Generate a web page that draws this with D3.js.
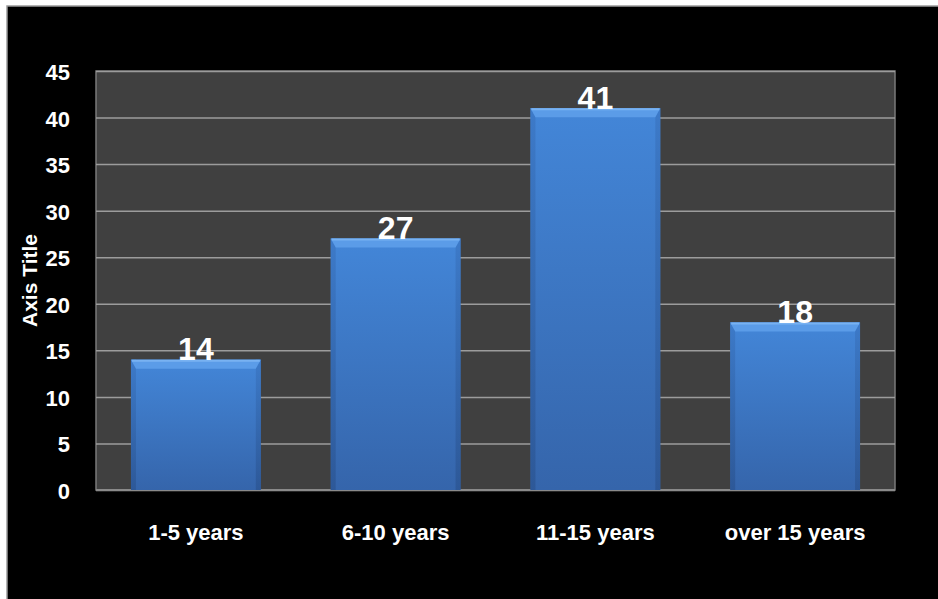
<!DOCTYPE html>
<html>
<head>
<meta charset="utf-8">
<script src="https://cdn.jsdelivr.net/npm/d3@7"></script>
<style>
  body { margin: 0; background: #fff; }
  text { font-family: "Liberation Sans", Arial, sans-serif; font-weight: bold; fill: #fff; }
</style>
</head>
<body>
<svg width="938" height="599"></svg>
<script>
var categories = ["1-5 years", "6-10 years", "11-15 years", "over 15 years"];
var values = [14, 27, 41, 18];
var yTicks = [0, 5, 10, 15, 20, 25, 30, 35, 40, 45];
var axisTitle = "Axis Title";

var svg = d3.select("svg");
var plot = {left: 96, right: 895, top: 71, bottom: 490};

// outer black panel
svg.append("rect")
   .attr("x", 7).attr("y", 6)
   .attr("width", 940).attr("height", 600)
   .attr("fill", "#000")
   .attr("stroke", "#9a9a9a")
   .attr("stroke-width", 1.5);

var x = d3.scaleBand()
          .domain(categories)
          .range([plot.left, plot.right])
          .paddingInner(0.35)
          .paddingOuter(0.175);

var y = d3.scaleLinear()
          .domain([0, 45])
          .range([plot.bottom, plot.top]);

// plot area
svg.append("rect")
   .attr("x", plot.left).attr("y", plot.top)
   .attr("width", plot.right - plot.left)
   .attr("height", plot.bottom - plot.top)
   .attr("fill", "#404040")
   .attr("stroke", "#7a7a7a")
   .attr("stroke-width", 1.5);

// gridlines
var grid = svg.append("g")
   .attr("transform", "translate(" + plot.left + ",0)")
   .call(d3.axisLeft(y).tickValues(yTicks).tickSize(-(plot.right - plot.left)).tickFormat(""));
grid.select(".domain").remove();
grid.selectAll("line").attr("stroke", "#9c9c9c").attr("stroke-width", 1.5);

// bottom axis line
svg.append("line")
   .attr("x1", plot.left).attr("x2", plot.right)
   .attr("y1", y(0)).attr("y2", y(0))
   .attr("stroke", "#8a8a8a").attr("stroke-width", 2);

// gradients
var defs = svg.append("defs");
var body = defs.append("linearGradient").attr("id", "barBody")
   .attr("x1", 0).attr("y1", 0).attr("x2", 0).attr("y2", 1);
body.append("stop").attr("offset", "0%").attr("stop-color", "#4386d8");
body.append("stop").attr("offset", "100%").attr("stop-color", "#3565ab");

var side = defs.append("linearGradient").attr("id", "barSide")
   .attr("x1", 0).attr("y1", 0).attr("x2", 0).attr("y2", 1);
side.append("stop").attr("offset", "0%").attr("stop-color", "#3a75c2");
side.append("stop").attr("offset", "100%").attr("stop-color", "#2a5390");

var bars = svg.selectAll("g.bar")
   .data(values)
   .enter()
   .append("g")
   .classed("bar", true);

var bev = 9, sw = 5;

bars.append("rect")
    .attr("x", function(d, i) { return x(categories[i]); })
    .attr("y", function(d) { return y(d); })
    .attr("width", x.bandwidth())
    .attr("height", function(d) { return y(0) - y(d); })
    .attr("fill", "url(#barBody)");

// side strips
bars.append("rect")
    .attr("x", function(d, i) { return x(categories[i]); })
    .attr("y", function(d) { return y(d); })
    .attr("width", sw)
    .attr("height", function(d) { return y(0) - y(d); })
    .attr("fill", "url(#barSide)")
    .attr("opacity", 0.7);
bars.append("rect")
    .attr("x", function(d, i) { return x(categories[i]) + x.bandwidth() - sw; })
    .attr("y", function(d) { return y(d); })
    .attr("width", sw)
    .attr("height", function(d) { return y(0) - y(d); })
    .attr("fill", "url(#barSide)")
    .attr("opacity", 0.7);

// top bevel
bars.append("path")
    .attr("d", function(d, i) {
      var x0 = x(categories[i]), x1 = x0 + x.bandwidth(), t = y(d);
      return "M" + x0 + "," + t + "L" + x1 + "," + t +
             "L" + (x1 - sw) + "," + (t + bev) + "L" + (x0 + sw) + "," + (t + bev) + "Z";
    })
    .attr("fill", "#5b9ce8");
bars.append("line")
    .attr("x1", function(d, i) { return x(categories[i]) + 1; })
    .attr("x2", function(d, i) { return x(categories[i]) + x.bandwidth() - 1; })
    .attr("y1", function(d) { return y(d) + 1; })
    .attr("y2", function(d) { return y(d) + 1; })
    .attr("stroke", "#78b2f2").attr("stroke-width", 2);

// value labels
bars.append("text")
    .attr("x", function(d, i) { return x(categories[i]) + x.bandwidth() / 2; })
    .attr("y", function(d) { return y(d) + 0.5; })
    .attr("text-anchor", "middle")
    .style("font-size", "32px")
    .text(function(d) { return d; });

// y tick labels
svg.selectAll("text.ytick")
   .data(yTicks)
   .enter()
   .append("text")
   .classed("ytick", true)
   .attr("x", 70)
   .attr("y", function(d) { return y(d) + 1.5; })
   .attr("text-anchor", "end")
   .attr("dominant-baseline", "central")
   .style("font-size", "22px")
   .text(function(d) { return d; });

// category labels
svg.selectAll("text.xtick")
   .data(categories)
   .enter()
   .append("text")
   .classed("xtick", true)
   .attr("x", function(d) { return x(d) + x.bandwidth() / 2; })
   .attr("y", 540)
   .attr("text-anchor", "middle")
   .style("font-size", "22px")
   .text(function(d) { return d; });

// axis title
svg.append("text")
   .attr("transform", "translate(37," + (plot.top + plot.bottom) / 2 + ") rotate(-90)")
   .attr("text-anchor", "middle")
   .style("font-size", "21px")
   .text(axisTitle);
</script>
</body>
</html>
